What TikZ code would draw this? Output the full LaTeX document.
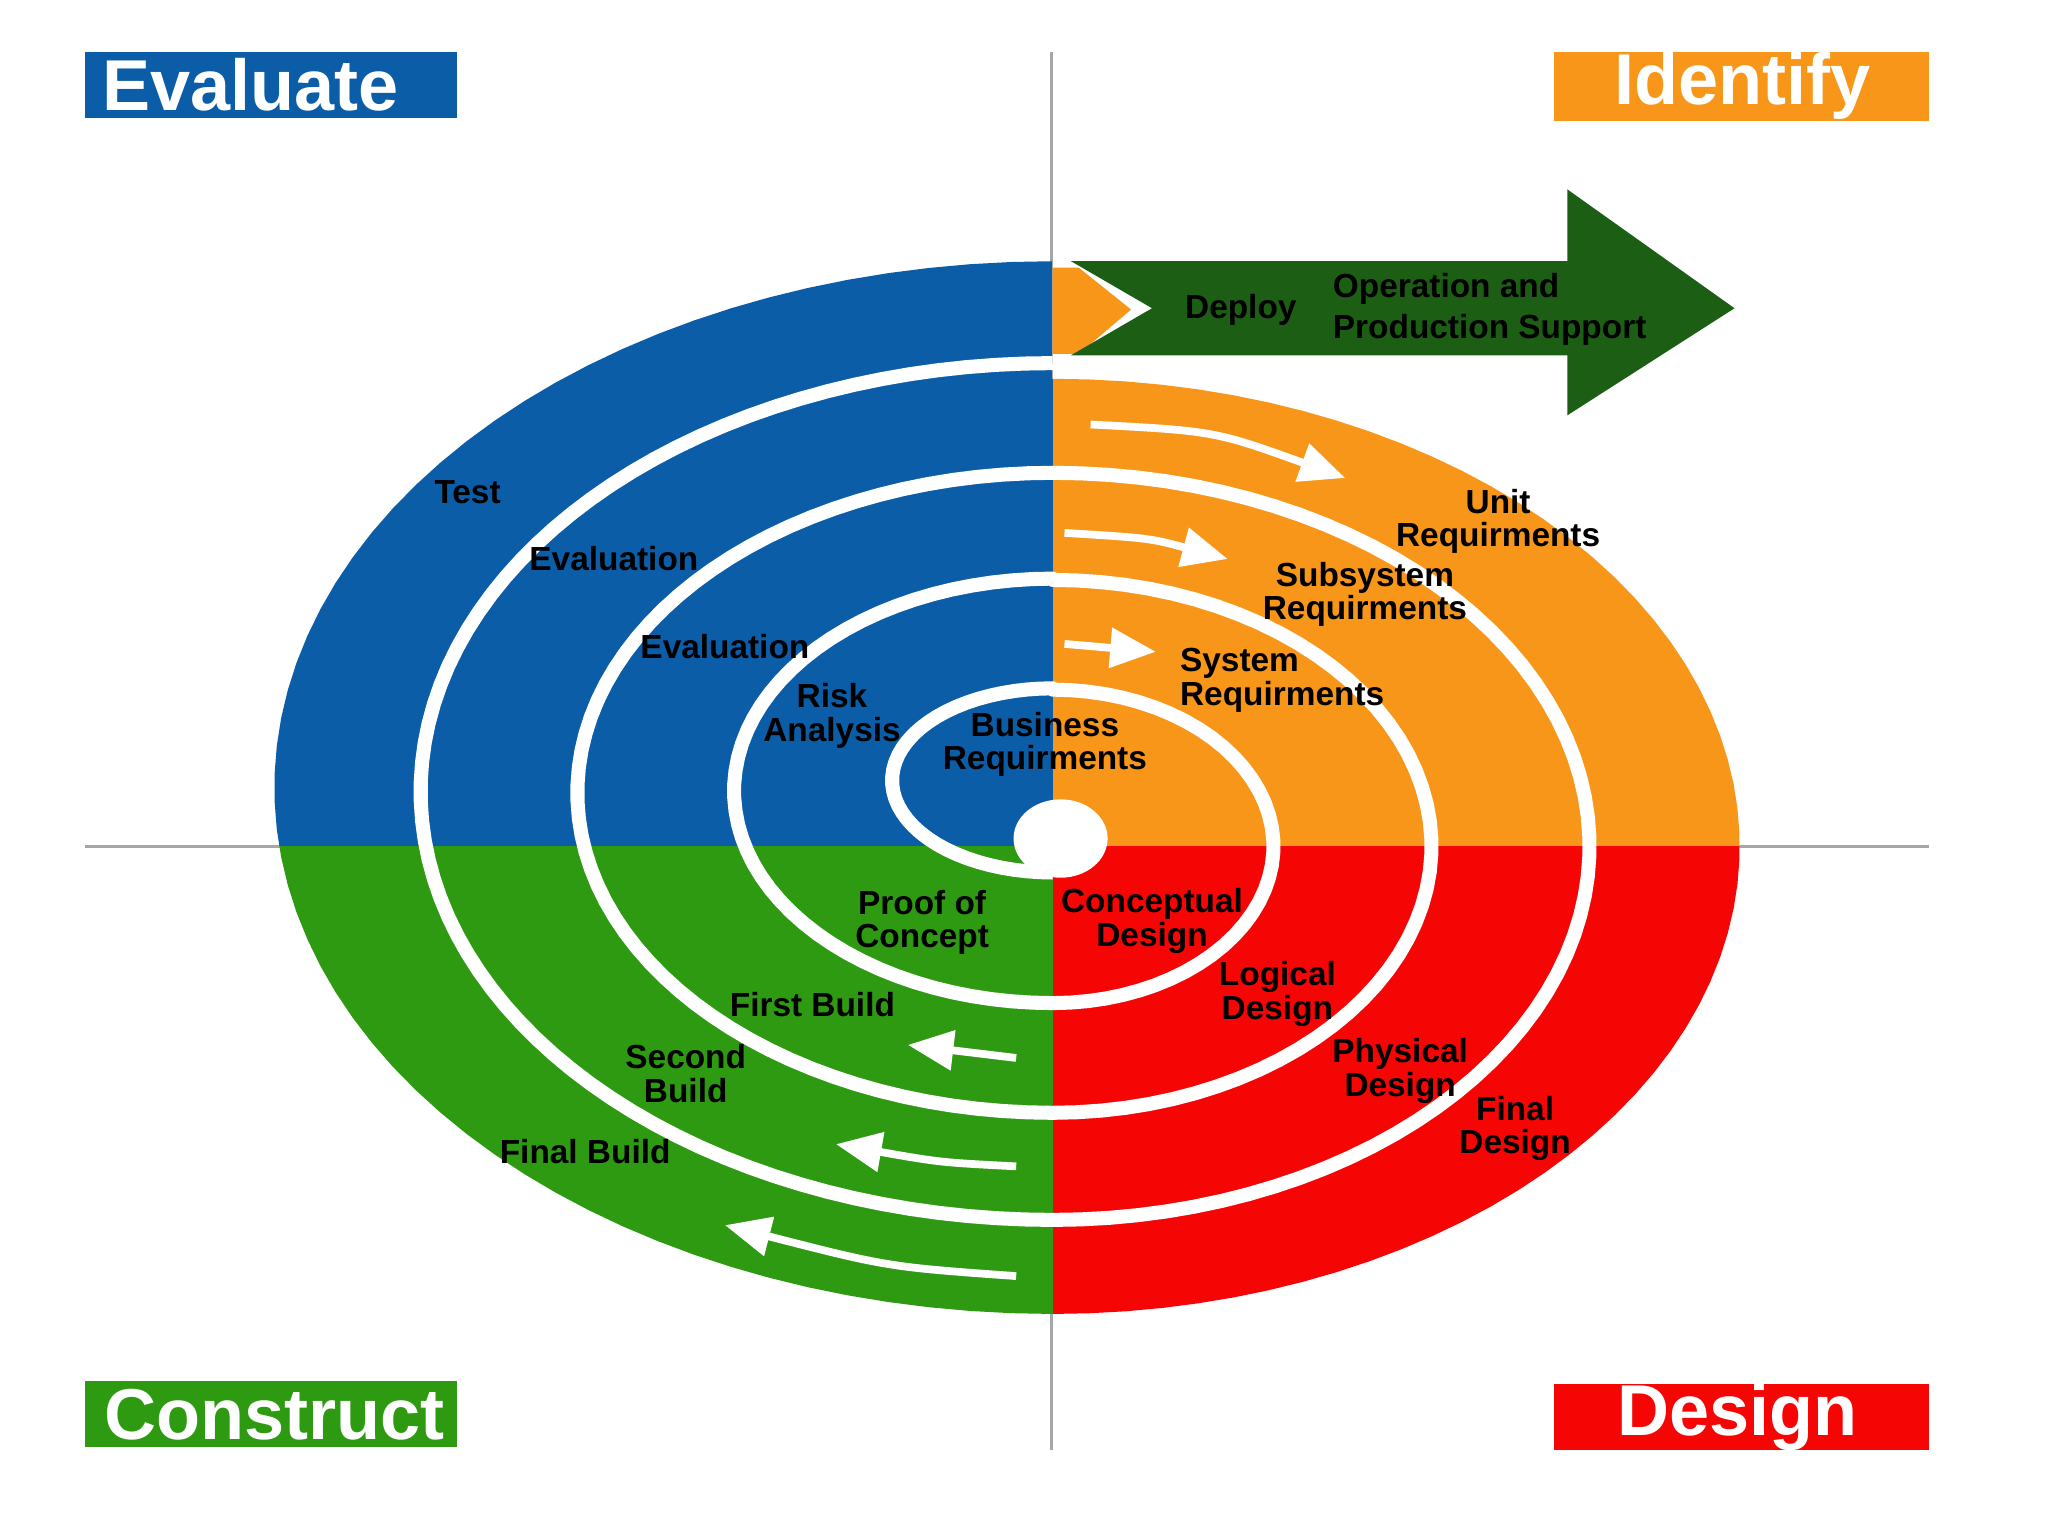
\documentclass[tikz,border=0pt]{standalone}
\usepackage{fontspec}
\setsansfont{Liberation Sans}
\usetikzlibrary{arrows.meta}
\definecolor{evblue}{HTML}{0B5DA7}
\definecolor{idorange}{HTML}{F8961A}
\definecolor{cogreen}{HTML}{2D9A12}
\definecolor{dered}{HTML}{F60505}
\definecolor{dpgreen}{HTML}{1B5E14}
\tikzset{
  phase/.style={
    font=\sffamily\bfseries\fontsize{9.5}{9.5}\selectfont,
    align=center,
    inner sep=0pt,
    text=black
  },
  quadlabel/.style={
    font=\sffamily\bfseries\fontsize{20.5}{22}\selectfont,
    text=white,
    inner sep=0pt
  },
  spiral/.style={
    draw=white,
    line width=4pt,
    line join=round
  },
  flow/.style={
    draw=white,
    line width=2.2pt,
    -{Triangle[length=13pt, width=11pt]}
  },
  axisline/.style={
    draw=black!35,
    line width=1pt
  }
}

\begin{document}
\begin{tikzpicture}[x=0.01306cm, y=-0.01306cm]
\useasboundingbox (0,0) rectangle (1568,1176);

% axes
\draw [axisline] (805,40) -- (805,1110);
\draw [axisline] (65,648) -- (1477,648);

% quadrant boxes
\fill [evblue] (65,40) rectangle (350,90);
\node[quadlabel] (evaluate) at (192,65) {Evaluate};
\fill [idorange] (1190,40) rectangle (1477,93);
\node[quadlabel] (identify) at (1334,66) {Identify};
\fill [cogreen] (65,1057) rectangle (350,1108);
\node[quadlabel] (construct) at (210,1083) {Construct};
\fill [dered] (1190,1060) rectangle (1477,1110);
\node[quadlabel] (design) at (1330,1085) {Design};

% coloured disc
\begin{scope}
  \clip (806,290) -- plot[domain=270:450, samples=60] ({806+526*cos(\x)},{648+358*sin(\x)})
    -- plot[domain=90:270, samples=60] ({806+596*cos(\x)},{603+403*sin(\x)}) -- cycle;
  \fill [evblue] (150,150) rectangle (806,648);
  \fill [idorange] (806,150) rectangle (1400,648);
  \fill [dered] (806,648) rectangle (1400,1050);
  \fill [cogreen] (150,648) rectangle (806,1050);
\end{scope}

% deploy arrow
\fill [idorange] (806,205) -- (826,205) -- (866,237) -- (826,271) -- (806,271) -- cycle;
\fill [dpgreen] (820,200) -- (1200,200) -- (1200,145) -- (1328,236) -- (1200,318)
  -- (1200,272) -- (820,272) -- (882,236) -- cycle;

% spiral
\draw [spiral] plot[domain=90:270, samples=40] ({806+123*cos(\x)},{597.5+70.5*sin(\x)})
  -- plot[domain=270:450, samples=40] ({806+169*cos(\x)},{648+120*sin(\x)})
  -- plot[domain=90:270, samples=50] ({806+244*cos(\x)},{605.5+162.5*sin(\x)})
  -- plot[domain=270:450, samples=50] ({806+290*cos(\x)},{648+204*sin(\x)})
  -- plot[domain=90:270, samples=60] ({806+364*cos(\x)},{607+245*sin(\x)})
  -- plot[domain=270:450, samples=60] ({806+411*cos(\x)},{648+286*sin(\x)})
  -- plot[domain=90:270, samples=70] ({806+484*cos(\x)},{606+328*sin(\x)});
\fill [white] (812,642) ellipse [x radius=36, y radius=30];

% flow arrows
\draw [flow] (835,325) .. controls (930,330) .. (1030,366);
\draw [flow] (815,408) .. controls (880,412) .. (940,428);
\draw [flow] (815,493) -- (885,499);
\draw [flow] (778,810) -- (695,800);
\draw [flow] (778,893) .. controls (720,890) .. (640,876);
\draw [flow] (778,977) .. controls (680,970) .. (555,938);

% labels
\node[phase] (test) at (358,377) {Test};
\node[phase] (eval2) at (470,428) {Evaluation};
\node[phase] (eval1) at (555,495) {Evaluation};
\node[phase] (risk) at (637,548) {Risk\\Analysis};
\node[phase] (busreq) at (800,570) {Business\\Requirments};
\node[phase, anchor=west, align=left] (sysreq) at (903,521) {System\\Requirments};
\node[phase] (subreq) at (1045,455) {Subsystem\\Requirments};
\node[phase] (unitreq) at (1147,399) {Unit\\Requirments};
\node[phase] (deploy) at (950,237) {Deploy};
\node[phase, anchor=west, align=left] (ops) at (1020,237) {Operation and\\[2pt]Production Support};
\node[phase] (proof) at (706,706) {Proof of\\Concept};
\node[phase] (concdes) at (882,705) {Conceptual\\Design};
\node[phase] (logdes) at (978,761) {Logical\\Design};
\node[phase] (physdes) at (1072,820) {Physical\\Design};
\node[phase] (findes) at (1160,864) {Final\\Design};
\node[phase] (build1) at (622,769) {First Build};
\node[phase] (build2) at (525,822) {Second\\Build};
\node[phase] (buildf) at (448,882) {Final Build};
\end{tikzpicture}
\end{document}
